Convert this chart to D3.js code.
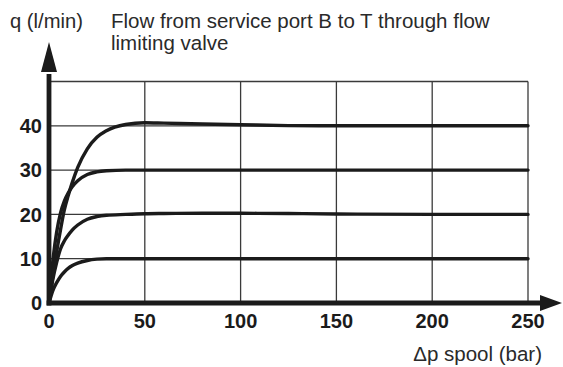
<!DOCTYPE html>
<html>
<head>
<meta charset="utf-8">
<script src="https://cdn.jsdelivr.net/npm/d3@7"></script>
<style>
  html, body { margin: 0; padding: 0; background: #fff; }
  svg { display: block; }
  text { font-family: "Liberation Sans", Arial, Helvetica, sans-serif; }
</style>
</head>
<body>
<svg id="chart" width="563" height="367"></svg>
<script>
// Flow q (l/min) through the flow limiting valve versus spool pressure drop.
const dp  = [0, 2, 4, 6, 8, 10, 12, 15, 20, 25, 30, 40, 50, 60, 80, 100, 125, 150, 200, 250];
const q10 = [0, 2.8, 4.6, 6.0, 7.0, 7.8, 8.4, 9.0, 9.6, 9.9, 10, 10, 10, 10, 10, 10, 10, 10, 10, 10];
const q20 = [0, 5.3, 9.2, 12.2, 14.0, 15.3, 16.4, 17.6, 18.9, 19.5, 19.8, 20.0, 20.15, 20.2, 20.25, 20.25, 20.2, 20.1, 20, 20];
const q30 = [0, 9.5, 16.0, 20.3, 23.0, 24.8, 26.2, 27.6, 29.0, 29.6, 29.85, 30, 30, 30, 30, 30, 30, 30, 30, 30];
const q40 = [0, 6.0, 11.6, 16.5, 21.0, 24.2, 27.0, 30.6, 34.8, 37.4, 38.9, 40.3, 40.7, 40.6, 40.4, 40.25, 40.05, 40, 40, 40];
const seriesList = [q10, q20, q30, q40];

const xTicks = [0, 50, 100, 150, 200, 250];
const yTicks = [0, 10, 20, 30, 40];
const yGrid  = [10, 20, 30, 40, 50];

const xLabel = "Δp spool (bar)";
const yLabel = "q (l/min)";
const titleLines = ["Flow from service port B to T through flow", "limiting valve"];

const svg = d3.select("#chart");
const ink = "#1b1b1b";

const x = d3.scaleLinear().domain([0, 250]).range([49, 528]);
const y = d3.scaleLinear().domain([0, 50]).range([303, 81.5]);

// grid
const grid = svg.append("g").attr("stroke", "#3a3a3a").attr("stroke-width", 1.3);
grid.selectAll("line.v").data(xTicks.slice(1)).join("line")
  .attr("x1", d => x(d)).attr("x2", d => x(d))
  .attr("y1", y(50)).attr("y2", y(0));
grid.selectAll("line.h").data(yGrid).join("line")
  .attr("x1", x(0)).attr("x2", x(250))
  .attr("y1", d => y(d)).attr("y2", d => y(d));

// curves
const line = d3.line()
  .x((d, i) => x(dp[i]))
  .y(d => y(d))
  .curve(d3.curveMonotoneX);

svg.append("g").selectAll("path").data(seriesList).join("path")
  .attr("d", line)
  .attr("fill", "none")
  .attr("stroke", ink)
  .attr("stroke-width", 3.4)
  .attr("stroke-linecap", "round");

// axes with arrowheads
const axisW = 4.8;
const yTop = y(50) - 9.5;
const xEnd = x(250) + 12;
svg.append("line")
  .attr("x1", x(0)).attr("x2", x(0))
  .attr("y1", y(0) + axisW / 2).attr("y2", yTop + 2)
  .attr("stroke", ink).attr("stroke-width", axisW);
svg.append("line")
  .attr("x1", x(0) - axisW / 2).attr("x2", xEnd + 2)
  .attr("y1", y(0)).attr("y2", y(0))
  .attr("stroke", ink).attr("stroke-width", axisW);
svg.append("path")
  .attr("d", `M${x(0) - 8},${yTop} L${x(0) + 8},${yTop} L${x(0)},${yTop - 30} Z`)
  .attr("fill", ink);
svg.append("path")
  .attr("d", `M${xEnd},${y(0) - 8} L${xEnd},${y(0) + 8} L${xEnd + 22},${y(0)} Z`)
  .attr("fill", ink);

// tick labels
svg.append("g").selectAll("text").data(xTicks).join("text")
  .attr("x", d => x(d)).attr("y", 328)
  .attr("text-anchor", "middle")
  .attr("font-size", 20).attr("font-weight", "bold")
  .attr("fill", ink)
  .text(d => d);

svg.append("g").selectAll("text").data(yTicks).join("text")
  .attr("x", 42).attr("y", d => y(d))
  .attr("dy", "0.36em")
  .attr("text-anchor", "end")
  .attr("font-size", 20).attr("font-weight", "bold")
  .attr("fill", ink)
  .text(d => d);

// titles
svg.append("text")
  .attr("x", 10).attr("y", 28)
  .attr("font-size", 20.2).attr("fill", "#2a2a2a")
  .text(yLabel);

svg.append("g").selectAll("text").data(titleLines).join("text")
  .attr("x", 111).attr("y", (d, i) => 28 + i * 21.5)
  .attr("font-size", 20.5).attr("fill", "#2a2a2a")
  .text(d => d);

svg.append("text")
  .attr("x", 542).attr("y", 361)
  .attr("text-anchor", "end")
  .attr("font-size", 20.5).attr("fill", "#2a2a2a")
  .text(xLabel);
</script>
</body>
</html>
